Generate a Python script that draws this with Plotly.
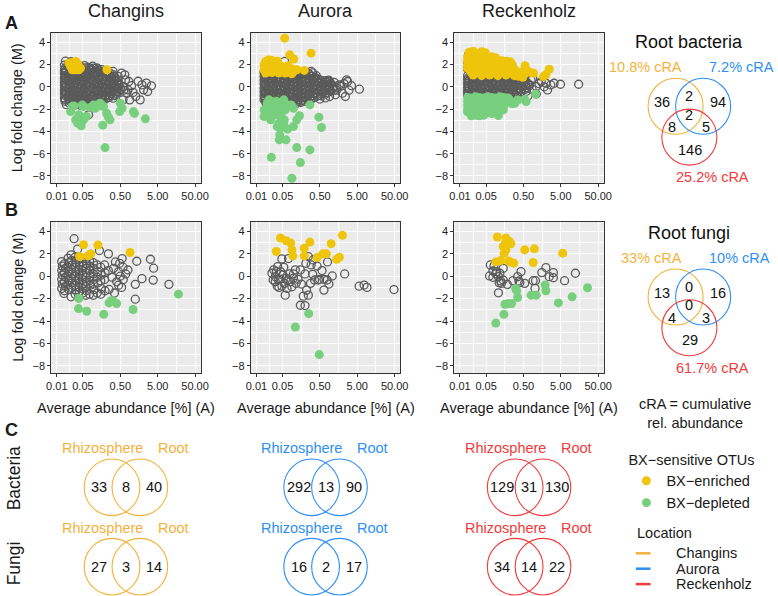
import plotly.graph_objects as go

W, H = 778, 596
FONT = "Arial, 'Liberation Sans', Helvetica, sans-serif"

# ---------------- styling constants ----------------
locations = ["Changins", "Aurora", "Reckenholz"]
loc_colors = ["#F4B23C", "#2D8FF3", "#F23B3B"]
col_enriched = "#EFC50C"
col_depleted = "#78CF7E"
col_other = "#5A5A5A"

x_tickvals = [0.01, 0.05, 0.5, 5, 50]
x_ticktext = ["0.01", "0.05", "0.50", "5.00", "50.00"]
x_minorvals = [0.0224, 0.158, 1.58, 15.8]
y_tickvals = [-8, -6, -4, -2, 0, 2, 4]
y_minorvals = [-7, -5, -3, -1, 1, 3]

# ---------------- data: (average abundance %, log fold change) ----------------
changins_bac_other = [
    (0.017, 2.3), (0.0235, 2.25), (0.016, 1.95), (0.020, 2.0), (0.026, 1.85), (0.033, 1.95), (0.043, 1.8), (0.055, 1.9), (0.071, 1.75), (0.091, 1.85), (0.117, 1.7),
    (0.0168, 1.68), (0.0213, 1.7), (0.0275, 1.65), (0.035, 1.7), (0.045, 1.65), (0.058, 1.7), (0.075, 1.62), (0.097, 1.68), (0.125, 1.6), (0.16, 1.55),
    (0.016, 1.5), (0.0176, 1.45), (0.0226, 1.55), (0.029, 1.4), (0.038, 1.5), (0.048, 1.55), (0.062, 1.45), (0.080, 1.5), (0.103, 1.4), (0.133, 1.45), (0.172, 1.35), (0.22, 1.25),
    (0.0168, 1.33), (0.0213, 1.3), (0.0275, 1.35), (0.035, 1.3), (0.045, 1.35), (0.058, 1.3), (0.075, 1.35), (0.097, 1.3), (0.125, 1.33), (0.16, 1.28), (0.205, 1.3), (0.265, 1.22),
    (0.016, 1.2), (0.020, 1.15), (0.026, 1.1), (0.033, 1.2), (0.043, 1.1), (0.055, 1.15), (0.071, 1.2), (0.091, 1.1), (0.117, 1.15), (0.151, 1.1), (0.195, 1.2), (0.25, 1.05), (0.32, 1.1),
    (0.0168, 0.98), (0.0213, 0.95), (0.0275, 1.0), (0.035, 0.95), (0.045, 1.0), (0.058, 0.95), (0.075, 1.0), (0.097, 0.95), (0.125, 1.0), (0.16, 0.95), (0.205, 1.0), (0.265, 0.95), (0.345, 0.92),
    (0.016, 0.8), (0.0176, 0.75), (0.0226, 0.85), (0.029, 0.8), (0.038, 0.75), (0.048, 0.85), (0.062, 0.8), (0.080, 0.75), (0.103, 0.85), (0.133, 0.8), (0.172, 0.75), (0.22, 0.85), (0.285, 0.8), (0.37, 0.7),
    (0.0168, 0.63), (0.0213, 0.6), (0.0275, 0.65), (0.035, 0.6), (0.045, 0.65), (0.058, 0.6), (0.075, 0.65), (0.097, 0.6), (0.125, 0.65), (0.16, 0.6), (0.205, 0.65), (0.265, 0.6), (0.345, 0.63), (0.44, 0.6),
    (0.016, 0.4), (0.020, 0.5), (0.026, 0.45), (0.033, 0.4), (0.043, 0.5), (0.055, 0.45), (0.071, 0.4), (0.091, 0.5), (0.117, 0.45), (0.151, 0.4), (0.195, 0.5), (0.25, 0.45), (0.32, 0.4), (0.42, 0.45),
    (0.0168, 0.28), (0.0213, 0.25), (0.0275, 0.3), (0.035, 0.25), (0.045, 0.3), (0.058, 0.25), (0.075, 0.3), (0.097, 0.25), (0.125, 0.3), (0.16, 0.25), (0.205, 0.3), (0.265, 0.25), (0.345, 0.3), (0.44, 0.25),
    (0.016, 0.1), (0.0176, 0.05), (0.0226, 0.15), (0.029, 0.1), (0.038, 0.05), (0.048, 0.15), (0.062, 0.1), (0.080, 0.05), (0.103, 0.15), (0.133, 0.1), (0.172, 0.05), (0.22, 0.15), (0.285, 0.1), (0.37, 0.05), (0.47, 0.1),
    (0.0168, -0.08), (0.0213, -0.1), (0.0275, -0.05), (0.035, -0.1), (0.045, -0.05), (0.058, -0.1), (0.075, -0.05), (0.097, -0.1), (0.125, -0.05), (0.16, -0.1), (0.205, -0.05), (0.265, -0.1), (0.345, -0.05), (0.44, -0.1),
    (0.016, -0.3), (0.020, -0.2), (0.026, -0.25), (0.033, -0.3), (0.043, -0.2), (0.055, -0.25), (0.071, -0.3), (0.091, -0.2), (0.117, -0.25), (0.151, -0.3), (0.195, -0.2), (0.25, -0.25), (0.32, -0.3), (0.42, -0.2), (0.52, -0.25),
    (0.0168, -0.43), (0.0213, -0.45), (0.0275, -0.4), (0.035, -0.45), (0.045, -0.4), (0.058, -0.45), (0.075, -0.4), (0.097, -0.45), (0.125, -0.4), (0.16, -0.45), (0.205, -0.4), (0.265, -0.45), (0.345, -0.4), (0.44, -0.45),
    (0.016, -0.6), (0.0176, -0.65), (0.0226, -0.55), (0.029, -0.6), (0.038, -0.65), (0.048, -0.55), (0.062, -0.6), (0.080, -0.65), (0.103, -0.55), (0.133, -0.6), (0.172, -0.65), (0.22, -0.55), (0.285, -0.6), (0.37, -0.65),
    (0.0168, -0.78), (0.0213, -0.8), (0.0275, -0.75), (0.035, -0.8), (0.045, -0.75), (0.058, -0.8), (0.075, -0.75), (0.097, -0.8), (0.125, -0.75), (0.16, -0.8), (0.205, -0.75), (0.265, -0.8), (0.345, -0.78),
    (0.016, -1.0), (0.020, -0.9), (0.026, -0.95), (0.033, -1.0), (0.043, -0.9), (0.055, -0.95), (0.071, -1.0), (0.091, -0.9), (0.117, -0.95), (0.151, -1.0), (0.195, -0.9), (0.25, -0.95),
    (0.0168, -1.13), (0.0213, -1.15), (0.0275, -1.1), (0.035, -1.15), (0.045, -1.1), (0.058, -1.15), (0.075, -1.1), (0.097, -1.15), (0.125, -1.1), (0.16, -1.15), (0.205, -1.1),
    (0.0165, -1.3), (0.0226, -1.25), (0.029, -1.3), (0.038, -1.35), (0.048, -1.25), (0.062, -1.3), (0.080, -1.35), (0.103, -1.25), (0.133, -1.3), (0.172, -1.2),
    (0.0213, -1.45), (0.0275, -1.42), (0.035, -1.48), (0.045, -1.42), (0.058, -1.45), (0.075, -1.42), (0.097, -1.45), (0.125, -1.4),
    (0.018, -1.6), (0.026, -1.55), (0.033, -1.6), (0.043, -1.65), (0.055, -1.55), (0.091, -1.6),
    (1.9, 0.18), (2.5, 0.33), (3.4, 0.09), (2.1, -0.27), (2.7, -0.42), (1.7, -1.17), (1.3, -0.87), (0.89, -1.17), (0.8, -0.27), (0.85, 0.48),
    (0.66, 1.08), (0.54, 1.23), (0.44, 0.93), (0.32, 1.38), (0.59, 0.03), (0.69, 0.63), (0.44, 0.18), (0.40, -0.57), (0.32, -1.02), (0.59, -1.17),
    (0.071, -2.51), (1.0, 0.1), (1.1, -0.5), (0.75, -0.6), (1.5, 0.5), (0.62, -0.3),
]
changins_bac_enriched = [
    (0.021, 2.13), (0.026, 2.19), (0.032, 2.28), (0.036, 2.07), (0.0234, 1.83), (0.029, 1.68), (0.035, 1.83), (0.043, 1.68),
    (0.026, 1.53), (0.032, 1.53), (0.039, 1.53), (0.22, 1.53),
]
changins_bac_depleted = [
    (0.0234, -2.22), (0.026, -1.77), (0.029, -1.71), (0.048, -1.62), (0.052, -1.77), (0.039, -2.51), (0.032, -2.96), (0.036, -3.26),
    (0.045, -3.5), (0.052, -2.96), (0.062, -2.66), (0.096, -1.62), (0.106, -1.92), (0.13, -1.71), (0.144, -1.47), (0.177, -1.77),
    (0.215, -2.37), (0.24, -2.72), (0.265, -2.96), (0.17, -3.44), (0.50, -1.47), (0.56, -1.92), (0.48, -2.22), (1.12, -2.22),
    (1.2, -2.37), (2.34, -2.87), (0.195, -5.45), (0.081, -1.83),
]

aurora_bac_other = [
    (0.016, 1.3), (0.020, 1.35), (0.026, 1.3), (0.033, 1.25), (0.043, 1.35), (0.055, 1.3), (0.071, 1.25), (0.091, 1.35), (0.117, 1.3), (0.151, 1.2), (0.195, 1.15), (0.25, 1.2),
    (0.0168, 1.12), (0.0213, 1.1), (0.0275, 1.15), (0.035, 1.1), (0.045, 1.15), (0.058, 1.1), (0.075, 1.15), (0.097, 1.1), (0.125, 1.15), (0.16, 1.1), (0.205, 1.12), (0.265, 1.08),
    (0.016, 0.95), (0.0176, 0.9), (0.0226, 1.0), (0.029, 0.95), (0.038, 0.9), (0.048, 1.0), (0.062, 0.95), (0.080, 0.9), (0.103, 1.0), (0.133, 0.95), (0.172, 0.9), (0.22, 1.0), (0.285, 0.95), (0.37, 0.85),
    (0.0168, 0.78), (0.0213, 0.75), (0.0275, 0.8), (0.035, 0.75), (0.045, 0.8), (0.058, 0.75), (0.075, 0.8), (0.097, 0.75), (0.125, 0.8), (0.16, 0.75), (0.205, 0.8), (0.265, 0.75), (0.345, 0.78), (0.44, 0.72),
    (0.016, 0.6), (0.020, 0.55), (0.026, 0.65), (0.033, 0.6), (0.043, 0.55), (0.055, 0.65), (0.071, 0.6), (0.091, 0.55), (0.117, 0.65), (0.151, 0.6), (0.195, 0.55), (0.25, 0.65), (0.32, 0.6), (0.42, 0.55), (0.52, 0.6), (0.66, 0.55), (0.85, 0.6),
    (0.0168, 0.42), (0.0213, 0.4), (0.0275, 0.45), (0.035, 0.4), (0.045, 0.45), (0.058, 0.4), (0.075, 0.45), (0.097, 0.4), (0.125, 0.45), (0.16, 0.4), (0.205, 0.45), (0.265, 0.4), (0.345, 0.45), (0.44, 0.4), (0.56, 0.42), (0.72, 0.4),
    (0.016, 0.25), (0.0176, 0.2), (0.0226, 0.3), (0.029, 0.25), (0.038, 0.2), (0.048, 0.3), (0.062, 0.25), (0.080, 0.2), (0.103, 0.3), (0.133, 0.25), (0.172, 0.2), (0.22, 0.3), (0.285, 0.25), (0.37, 0.2), (0.47, 0.3), (0.6, 0.25), (0.77, 0.2), (0.98, 0.3),
    (0.0168, 0.08), (0.0213, 0.05), (0.0275, 0.1), (0.035, 0.05), (0.045, 0.1), (0.058, 0.05), (0.075, 0.1), (0.097, 0.05), (0.125, 0.1), (0.16, 0.05), (0.205, 0.1), (0.265, 0.05), (0.345, 0.1), (0.44, 0.05), (0.56, 0.1), (0.72, 0.05), (0.92, 0.08), (1.2, 0.05),
    (0.016, -0.1), (0.020, -0.15), (0.026, -0.05), (0.033, -0.1), (0.043, -0.15), (0.055, -0.05), (0.071, -0.1), (0.091, -0.15), (0.117, -0.05), (0.151, -0.1), (0.195, -0.15), (0.25, -0.05), (0.32, -0.1), (0.42, -0.15), (0.52, -0.05), (0.66, -0.1), (0.85, -0.05), (1.08, -0.15), (1.38, -0.1),
    (0.0168, -0.28), (0.0213, -0.3), (0.0275, -0.25), (0.035, -0.3), (0.045, -0.25), (0.058, -0.3), (0.075, -0.25), (0.097, -0.3), (0.125, -0.25), (0.16, -0.3), (0.205, -0.25), (0.265, -0.3), (0.345, -0.25), (0.44, -0.3), (0.56, -0.25), (0.72, -0.3), (0.92, -0.28), (1.2, -0.3),
    (0.016, -0.45), (0.0176, -0.5), (0.0226, -0.4), (0.029, -0.45), (0.038, -0.5), (0.048, -0.4), (0.062, -0.45), (0.080, -0.5), (0.103, -0.4), (0.133, -0.45), (0.172, -0.5), (0.22, -0.4), (0.285, -0.45), (0.37, -0.5), (0.47, -0.4), (0.6, -0.45), (0.77, -0.5), (0.98, -0.4),
    (0.0168, -0.62), (0.0213, -0.65), (0.0275, -0.6), (0.035, -0.65), (0.045, -0.6), (0.058, -0.65), (0.075, -0.6), (0.097, -0.65), (0.125, -0.6), (0.16, -0.65), (0.205, -0.6), (0.265, -0.65), (0.345, -0.6), (0.44, -0.65), (0.56, -0.62), (0.72, -0.65),
    (0.016, -0.8), (0.020, -0.85), (0.026, -0.75), (0.033, -0.8), (0.043, -0.85), (0.055, -0.75), (0.071, -0.8), (0.091, -0.85), (0.117, -0.75), (0.151, -0.8), (0.195, -0.85), (0.25, -0.75), (0.32, -0.8), (0.42, -0.85), (0.52, -0.8),
    (0.0168, -0.98), (0.0213, -1.0), (0.0275, -0.95), (0.035, -1.0), (0.045, -0.95), (0.058, -1.0), (0.075, -0.95), (0.097, -1.0), (0.125, -0.95), (0.16, -1.0), (0.205, -0.95), (0.265, -1.0), (0.345, -0.98),
    (0.016, -1.15), (0.0176, -1.2), (0.0226, -1.1), (0.029, -1.15), (0.038, -1.2), (0.048, -1.1), (0.062, -1.15), (0.080, -1.2), (0.103, -1.1), (0.133, -1.15), (0.172, -1.2), (0.22, -1.1), (0.285, -1.15),
    (0.0213, -1.3), (0.0275, -1.32), (0.035, -1.28), (0.045, -1.3), (0.058, -1.32), (0.075, -1.28), (0.097, -1.3), (0.125, -1.32), (0.16, -1.28), (0.205, -1.3),
    (0.018, -1.45), (0.026, -1.5), (0.033, -1.4), (0.043, -1.45), (0.055, -1.5), (0.071, -1.4), (0.091, -1.45), (0.117, -1.5), (0.151, -1.4),
    (0.91, 0.48), (1.66, 0.18), (2.0, -0.57), (2.6, 0.63), (2.4, -0.87), (5.7, -0.21), (0.91, -0.87), (1.2, 0.4), (1.4, -0.3), (1.8, 0.05),
    (3.0, -0.3), (3.5, 0.1), (2.2, 0.3), (1.3, -0.7), (0.057, 2.28), (0.29, 1.38), (0.32, 1.26), (0.81, 0.48), (2.75, 0.48), (0.7, -1.0),
    (0.5, -1.1), (0.4, 1.0),
]
aurora_bac_enriched = [
    (0.057, 4.37), (0.078, 2.87), (0.10, 2.49), (0.29, 3.02), (0.19, 1.47), (0.092, 1.59),
    (0.016, 1.98), (0.0177, 2.28), (0.0215, 2.43), (0.026, 2.37), (0.032, 2.13), (0.040, 1.98), (0.048, 1.83), (0.0195, 1.83),
    (0.024, 1.68), (0.029, 1.68), (0.036, 1.53), (0.044, 1.53), (0.054, 1.47), (0.066, 1.53), (0.080, 1.47), (0.098, 1.38),
    (0.016, 1.53), (0.0177, 1.23), (0.026, 1.29), (0.040, 1.23), (0.059, 1.23), (0.088, 1.17), (0.12, 1.53), (0.021, 2.1),
    (0.03, 1.95), (0.037, 2.3), (0.06, 1.75), (0.07, 1.9),
]
aurora_bac_depleted = [
    (0.016, -2.07), (0.016, -2.66), (0.0195, -1.47), (0.0215, -2.37), (0.026, -1.32), (0.026, -2.07), (0.032, -1.77), (0.032, -2.51),
    (0.040, -1.47), (0.040, -2.22), (0.048, -1.77), (0.054, -1.17), (0.059, -2.07), (0.024, -2.96), (0.036, -3.56), (0.040, -3.26),
    (0.044, -3.71), (0.054, -3.41), (0.056, -2.96), (0.068, -3.8), (0.042, -4.31), (0.041, -4.76), (0.062, -4.76), (0.098, -3.56),
    (0.12, -2.96), (0.142, -2.6), (0.085, -1.62), (0.098, -1.92), (0.27, -1.62), (0.47, -2.72), (0.55, -3.65), (0.12, -5.45),
    (0.27, -5.66), (0.15, -6.8), (0.025, -6.32), (0.089, -8.2), (0.0215, -1.17), (0.02, -1.9), (0.03, -2.2), (0.045, -2.6),
    (0.065, -1.6), (0.035, -1.3),
]

reckenholz_bac_other = [
    (0.016, 2.1), (0.016, 1.6), (0.017, 2.9),
    (0.016, 1.0), (0.020, 1.05), (0.026, 0.95), (0.033, 1.0), (0.043, 1.05), (0.055, 0.95), (0.071, 1.0), (0.091, 1.05), (0.117, 0.95), (0.151, 1.0), (0.195, 1.05), (0.25, 0.95), (0.32, 1.0), (0.42, 1.05),
    (0.0168, 0.82), (0.0213, 0.8), (0.0275, 0.85), (0.035, 0.8), (0.045, 0.85), (0.058, 0.8), (0.075, 0.85), (0.097, 0.8), (0.125, 0.85), (0.16, 0.8), (0.205, 0.85), (0.265, 0.8), (0.345, 0.85), (0.44, 0.8),
    (0.016, 0.65), (0.0176, 0.6), (0.0226, 0.7), (0.029, 0.65), (0.038, 0.6), (0.048, 0.7), (0.062, 0.65), (0.080, 0.6), (0.103, 0.7), (0.133, 0.65), (0.172, 0.6), (0.22, 0.7), (0.285, 0.65), (0.37, 0.6), (0.47, 0.7),
    (0.0168, 0.48), (0.0213, 0.45), (0.0275, 0.5), (0.035, 0.45), (0.045, 0.5), (0.058, 0.45), (0.075, 0.5), (0.097, 0.45), (0.125, 0.5), (0.16, 0.45), (0.205, 0.5), (0.265, 0.45), (0.345, 0.5), (0.44, 0.45), (0.56, 0.48),
    (0.016, 0.3), (0.020, 0.25), (0.026, 0.35), (0.033, 0.3), (0.043, 0.25), (0.055, 0.35), (0.071, 0.3), (0.091, 0.25), (0.117, 0.35), (0.151, 0.3), (0.195, 0.25), (0.25, 0.35), (0.32, 0.3), (0.42, 0.25), (0.52, 0.35), (0.66, 0.3),
    (0.0168, 0.12), (0.0213, 0.1), (0.0275, 0.15), (0.035, 0.1), (0.045, 0.15), (0.058, 0.1), (0.075, 0.15), (0.097, 0.1), (0.125, 0.15), (0.16, 0.1), (0.205, 0.15), (0.265, 0.1), (0.345, 0.15), (0.44, 0.1), (0.56, 0.12), (0.72, 0.1),
    (0.016, -0.05), (0.0176, -0.1), (0.0226, 0.0), (0.029, -0.05), (0.038, -0.1), (0.048, 0.0), (0.062, -0.05), (0.080, -0.1), (0.103, 0.0), (0.133, -0.05), (0.172, -0.1), (0.22, 0.0), (0.285, -0.05), (0.37, -0.1), (0.47, 0.0), (0.6, -0.05),
    (0.0168, -0.22), (0.0213, -0.25), (0.0275, -0.2), (0.035, -0.25), (0.045, -0.2), (0.058, -0.25), (0.075, -0.2), (0.097, -0.25), (0.125, -0.2), (0.16, -0.25), (0.205, -0.2), (0.265, -0.25), (0.345, -0.2), (0.44, -0.25), (0.56, -0.22),
    (0.016, -0.4), (0.020, -0.45), (0.026, -0.35), (0.033, -0.4), (0.043, -0.45), (0.055, -0.35), (0.071, -0.4), (0.091, -0.45), (0.117, -0.35), (0.151, -0.4), (0.195, -0.45), (0.25, -0.35), (0.32, -0.4), (0.42, -0.45),
    (0.0168, -0.58), (0.0213, -0.6), (0.0275, -0.55), (0.035, -0.6), (0.045, -0.55), (0.058, -0.6), (0.075, -0.55), (0.097, -0.6), (0.125, -0.55), (0.16, -0.6), (0.205, -0.55), (0.265, -0.6), (0.345, -0.58),
    (0.016, -0.75), (0.0226, -0.7), (0.029, -0.75), (0.038, -0.8), (0.048, -0.7), (0.062, -0.75), (0.080, -0.8), (0.103, -0.7), (0.133, -0.75), (0.172, -0.8), (0.22, -0.7), (0.285, -0.75),
    (0.89, 0.77), (1.1, 0.02), (1.5, 0.47), (2.0, 0.32), (2.7, 0.17), (3.3, 0.32), (4.9, 0.23), (2.2, -0.28), (1.1, -0.64), (0.66, -0.82),
    (0.35, -0.94), (0.195, -0.82), (0.54, 1.07), (0.8, 0.62), (15, 0.23), (0.7, 0.2), (0.85, -0.2), (1.3, 0.3), (1.8, 0.0), (0.6, -0.4),
]
reckenholz_bac_enriched = [
    (0.0176, 3.1), (0.0226, 3.2), (0.029, 3.0), (0.038, 3.15), (0.048, 3.05),
    (0.016, 2.7), (0.020, 2.75), (0.026, 2.65), (0.033, 2.7), (0.043, 2.8), (0.055, 2.65), (0.071, 2.7), (0.091, 2.6),
    (0.016, 2.35), (0.0176, 2.3), (0.0226, 2.4), (0.029, 2.35), (0.038, 2.3), (0.048, 2.4), (0.062, 2.35), (0.080, 2.3), (0.103, 2.4), (0.133, 2.35), (0.172, 2.3), (0.22, 2.25),
    (0.016, 2.0), (0.020, 1.95), (0.026, 2.05), (0.033, 2.0), (0.043, 1.95), (0.055, 2.05), (0.071, 2.0), (0.091, 1.95), (0.117, 2.05), (0.151, 2.0), (0.195, 1.95), (0.25, 2.0),
    (0.016, 1.65), (0.0176, 1.6), (0.0226, 1.7), (0.029, 1.65), (0.038, 1.6), (0.048, 1.7), (0.062, 1.65), (0.080, 1.6), (0.103, 1.7), (0.133, 1.65), (0.172, 1.6), (0.22, 1.7), (0.285, 1.6),
    (0.020, 1.3), (0.026, 1.35), (0.033, 1.25), (0.043, 1.3), (0.055, 1.35), (0.071, 1.25), (0.091, 1.3), (0.117, 1.35), (0.151, 1.25), (0.195, 1.3), (0.25, 1.35), (0.32, 1.25), (0.42, 1.3),
    (0.0226, 1.05), (0.038, 1.0), (0.062, 1.05), (0.103, 1.0), (0.172, 1.05), (0.285, 1.0), (0.37, 0.95),
    (0.93, 1.22), (2.45, 1.58), (1.7, 0.92), (2.0, 1.1), (0.48, 0.86), (0.21, 2.12), (0.6, 1.5), (0.75, 1.3), (0.55, 1.9),
]
reckenholz_bac_depleted = [
    (0.016, -0.95), (0.020, -1.0), (0.026, -0.9), (0.033, -0.95), (0.043, -1.0), (0.055, -0.9), (0.071, -0.95), (0.091, -1.0), (0.117, -0.9), (0.151, -0.95), (0.195, -1.0),
    (0.016, -1.3), (0.0176, -1.35), (0.0226, -1.25), (0.029, -1.3), (0.038, -1.35), (0.048, -1.25), (0.062, -1.3), (0.080, -1.35), (0.103, -1.25), (0.133, -1.3), (0.172, -1.35), (0.22, -1.25),
    (0.016, -1.65), (0.020, -1.7), (0.026, -1.6), (0.033, -1.65), (0.043, -1.7), (0.055, -1.6), (0.071, -1.65), (0.091, -1.7), (0.117, -1.6), (0.151, -1.65),
    (0.016, -2.0), (0.0176, -2.05), (0.0226, -1.95), (0.029, -2.0), (0.038, -2.05), (0.048, -1.95), (0.062, -2.0), (0.080, -2.05), (0.103, -1.95), (0.133, -2.0),
    (0.016, -2.25), (0.020, -2.35), (0.026, -2.3), (0.033, -2.4), (0.043, -2.35), (0.055, -2.3), (0.071, -2.4),
    (0.020, -2.6), (0.026, -2.55), (0.033, -2.6), (0.043, -2.55),
    (0.35, -1.18), (0.29, -1.48), (0.54, -1.12), (0.59, -1.33), (1.05, -0.64), (0.107, -2.58), (0.145, -2.07), (0.25, -1.5),
]

changins_fun_other = [
    (0.0135, 1.3), (0.014, 0.9), (0.0135, 0.5), (0.014, 0.1), (0.0135, -0.3), (0.014, -0.7), (0.0135, -1.1),
    (0.016, 1.1), (0.017, 0.7), (0.016, 0.3), (0.017, -0.1), (0.016, -0.5), (0.017, -0.9), (0.016, -1.3), (0.0156, -1.54),
    (0.020, 1.6), (0.021, 1.2), (0.020, 0.8), (0.021, 0.4), (0.020, 0.0), (0.021, -0.4), (0.020, -0.8), (0.021, -1.2),
    (0.024, 1.9), (0.025, 1.4), (0.026, 1.0), (0.025, 0.6), (0.026, 0.2), (0.025, -0.2), (0.026, -0.6), (0.025, -1.0), (0.024, -1.84),
    (0.031, 1.7), (0.032, 1.2), (0.031, 0.8), (0.032, 0.4), (0.031, 0.0), (0.032, -0.4), (0.031, -0.8), (0.032, -1.2), (0.031, -1.6),
    (0.036, 2.41), (0.029, 3.34), (0.039, 1.5), (0.040, 1.0), (0.039, 0.6), (0.040, 0.2), (0.039, -0.2), (0.040, -0.6), (0.039, -1.0), (0.040, -1.4),
    (0.048, 1.3), (0.050, 0.9), (0.048, 0.5), (0.050, 0.1), (0.048, -0.3), (0.050, -0.7), (0.048, -1.1), (0.050, -1.5),
    (0.060, 1.6), (0.062, 1.1), (0.060, 0.7), (0.062, 0.3), (0.060, -0.1), (0.062, -0.5), (0.060, -0.9), (0.062, -1.3), (0.060, -1.7),
    (0.075, 1.4), (0.078, 0.9), (0.075, 0.5), (0.078, 0.0), (0.075, -0.4), (0.078, -0.8), (0.075, -1.6),
    (0.095, 1.2), (0.098, 0.7), (0.095, 0.2), (0.098, -0.3), (0.095, -0.7), (0.098, -1.2), (0.095, -1.7),
    (0.12, 1.0), (0.125, 0.4), (0.12, -0.1), (0.125, -0.6), (0.12, -1.5), (0.138, 2.29),
    (0.15, 0.8), (0.155, 0.1), (0.15, -0.4), (0.155, -1.1), (0.15, -1.6),
    (0.19, 1.0), (0.195, 0.3), (0.19, -0.3), (0.195, -1.3),
    (0.24, 1.99), (0.37, 1.27), (0.56, 1.57), (0.59, 0.8), (0.8, 0.55), (1.38, 1.33), (3.2, 1.51), (3.9, 0.71), (3.8, -0.35), (1.9, -0.22),
    (1.26, -0.73), (10, -0.73), (1.26, -2.05), (0.48, 1.15), (0.54, -1.0), (0.25, -1.18), (0.45, 0.4), (0.5, 0.0), (0.4, -0.5), (0.6, -0.3),
    (0.7, 0.2), (0.33, 0.7), (0.3, -0.1), (0.45, -0.8), (0.35, -1.5), (0.24, 0.5),
]
changins_fun_enriched = [
    (0.052, 2.80), (0.041, 1.75), (0.068, 1.81), (0.081, 1.99), (0.075, 1.9), (0.126, 2.77), (0.91, 2.11),
]
changins_fun_depleted = [
    (0.039, -1.99), (0.038, -2.89), (0.063, -3.13), (0.18, -3.4), (0.25, -2.38), (0.32, -2.2), (0.40, -2.44), (0.28, -2.2),
    (1.1, -2.97), (18, -1.6),
]

aurora_fun_other = [
    (0.029, 0.56), (0.026, 0.26), (0.028, -0.34), (0.032, -0.49), (0.036, -0.88), (0.040, -1.0), (0.032, -0.04), (0.037, 0.86),
    (0.044, 0.41), (0.044, -0.28), (0.048, 1.54), (0.051, 0.11), (0.054, 0.79), (0.056, -0.64), (0.059, -1.69), (0.063, -0.19),
    (0.066, -1.09), (0.072, 1.57), (0.077, 0.2), (0.080, -0.49), (0.089, -0.94), (0.098, -0.19), (0.11, 0.56), (0.115, -0.64),
    (0.13, -0.28), (0.15, 0.56), (0.16, -0.7), (0.18, -1.78), (0.20, 0.2), (0.21, 1.15), (0.22, -1.24), (0.245, 1.75),
    (0.245, -1.69), (0.15, -2.59), (0.20, -2.62), (0.28, -0.64), (0.29, 1.0), (0.32, 0.17), (0.33, 1.45), (0.36, -0.34),
    (0.42, 0.91), (0.45, -0.34), (0.49, -0.28), (0.57, 0.5), (0.64, -0.28), (0.64, -1.24), (0.78, -0.34), (0.8, 1.27),
    (0.87, -0.7), (1.07, 0.02), (2.3, 0.2), (5.6, -0.89), (7.6, -0.79), (9.1, -1.0), (48, -1.19),
    (0.034, 0.4), (0.039, -0.34), (0.048, -0.88), (0.07, -0.34), (0.098, 0.2),
]
aurora_fun_enriched = [
    (0.034, 2.2), (0.044, 3.4), (0.063, 3.16), (0.083, 2.95), (0.089, 2.35), (0.094, 1.81), (0.19, 2.5), (0.27, 3.04),
    (0.19, 1.81), (0.42, 1.66), (0.60, 1.99), (0.74, 1.99), (1.0, 2.89), (1.4, 1.51), (1.66, 1.69), (2.0, 3.64),
]
aurora_fun_depleted = [(0.25, -3.34), (0.11, -4.53), (0.48, -6.99)]

reckenholz_fun_other = [
    (0.065, 1.0), (0.081, 0.91), (0.062, 0.02), (0.076, 0.46), (0.095, 0.41), (0.107, -0.04), (0.123, -0.43), (0.144, -0.34),
    (0.112, -0.58), (0.144, 0.7), (0.107, -1.48), (0.185, -0.73), (0.128, -0.64), (0.26, -0.4), (0.38, -0.43), (0.43, 0.41),
    (0.54, -0.64), (0.91, -0.4), (1.02, -1.09), (1.05, -0.4), (1.55, 0.32), (2.0, 0.77), (2.45, -0.04), (3.16, 0.32),
    (3.16, -0.13), (6.3, -0.4), (12.3, 0.26), (0.35, -0.04), (0.40, -0.58), (0.076, -0.1), (0.092, 0.2), (0.117, 0.26),
]
reckenholz_fun_enriched = [
    (0.10, 3.49), (0.17, 3.4), (0.21, 3.1), (0.23, 2.89), (0.144, 2.65), (0.17, 2.35), (0.152, 2.05), (0.54, 2.35),
    (0.98, 2.44), (5.6, 2.05), (0.091, 1.27), (0.123, 1.39), (0.22, 1.27), (0.275, 1.16), (0.91, 1.22), (0.2, 1.35), (0.16, 2.9),
]
reckenholz_fun_depleted = [
    (0.091, -4.18), (0.15, -3.4), (0.16, -2.5), (0.195, -2.44), (0.24, -2.44), (0.31, -1.09), (0.35, -1.9), (0.8, -1.69),
    (1.1, -1.69), (1.9, -0.79), (2.0, -1.3), (4.3, -2.38), (10, -1.84), (26, -1.03), (0.33, -1.3),
]

# Venn diagram counts
root_bac_counts = [36, 2, 94, 2, 8, 5, 146]      # A, AB, B, ABC, AC, BC, C
root_fun_counts = [13, 0, 16, 0, 4, 3, 29]
root_bac_cra = ["10.8% cRA", "7.2% cRA", "25.2% cRA"]
root_fun_cra = ["33% cRA", "10% cRA", "61.7% cRA"]
venn2_labels = ["Rhizosphere", "Root"]
bac_venn2_counts = [(33, 8, 40), (292, 13, 90), (129, 31, 130)]
fun_venn2_counts = [(27, 3, 14), (16, 2, 17), (34, 14, 22)]

# ---------------- layout geometry (pixels) ----------------
panel_x_px = [(47, 199), (250, 402), (457, 609)]
panel_y_px = [(33, 183), (222, 373)]
x_range_log = [-2.15, 1.85]
y_range = [-8.63, 4.83]

panels = [
    [(changins_bac_other, changins_bac_enriched, changins_bac_depleted),
     (aurora_bac_other, aurora_bac_enriched, aurora_bac_depleted),
     (reckenholz_bac_other, reckenholz_bac_enriched, reckenholz_bac_depleted)],
    [(changins_fun_other, changins_fun_enriched, changins_fun_depleted),
     (aurora_fun_other, aurora_fun_enriched, aurora_fun_depleted),
     (reckenholz_fun_other, reckenholz_fun_enriched, reckenholz_fun_depleted)],
]


def sfx(i):
    return "" if i == 1 else str(i)


fig = go.Figure()
lay = dict(width=W, height=H, margin=dict(l=0, r=0, t=0, b=0), paper_bgcolor="white",
           plot_bgcolor="rgba(0,0,0,0)", font=dict(family=FONT, color="#1a1a1a"),
           showlegend=True, shapes=[], annotations=[], hovermode=False)


def ann(xp, yp, text, size, color="#1a1a1a", **kw):
    d = dict(x=xp / W, y=1 - yp / H, xref="paper", yref="paper", text=text, showarrow=False,
             font=dict(size=size, color=color, family=FONT), xanchor="center", yanchor="middle")
    d.update(kw)
    lay["annotations"].append(d)


for r in range(2):
    for c in range(3):
        idx = r * 3 + c + 1
        s = sfx(idx)
        x0, x1 = panel_x_px[c]
        y0, y1 = panel_y_px[r]
        other, enr, dep = panels[r][c]
        fig.add_trace(go.Scatter(x=[p[0] for p in other], y=[p[1] for p in other], mode="markers",
                                 xaxis="x" + s, yaxis="y" + s, showlegend=False,
                                 marker=dict(symbol="circle-open", size=8, color=col_other, line=dict(width=1.3))))
        fig.add_trace(go.Scatter(x=[p[0] for p in enr], y=[p[1] for p in enr], mode="markers",
                                 xaxis="x" + s, yaxis="y" + s, name="BX\u2212enriched",
                                 showlegend=(idx == 1), legend="legend",
                                 marker=dict(symbol="circle", size=9, color=col_enriched, line=dict(width=0))))
        fig.add_trace(go.Scatter(x=[p[0] for p in dep], y=[p[1] for p in dep], mode="markers",
                                 xaxis="x" + s, yaxis="y" + s, name="BX\u2212depleted",
                                 showlegend=(idx == 1), legend="legend",
                                 marker=dict(symbol="circle", size=9, color=col_depleted, line=dict(width=0))))
        common = dict(ticks="outside", ticklen=3, tickwidth=1, tickcolor="#333",
                      tickfont=dict(size=11, color="#222", family=FONT), showline=True, mirror=True,
                      linecolor="#333", linewidth=1, showgrid=True, gridcolor="white", gridwidth=1.2,
                      zeroline=False, fixedrange=True)
        lay["xaxis" + s] = dict(type="log", domain=[x0 / W, x1 / W], range=x_range_log, anchor="y" + s,
                                tickmode="array", tickvals=x_tickvals, ticktext=x_ticktext,
                                minor=dict(tickvals=x_minorvals, showgrid=True, gridcolor="white", gridwidth=0.6),
                                **common)
        lay["yaxis" + s] = dict(domain=[1 - y1 / H, 1 - y0 / H], range=y_range, anchor="x" + s,
                                tickmode="array", tickvals=y_tickvals,
                                minor=dict(tickvals=y_minorvals, showgrid=True, gridcolor="white", gridwidth=0.6),
                                **common)
        lay["shapes"].append(dict(type="rect", xref=f"x{s} domain", yref=f"y{s} domain", x0=0, x1=1, y0=0, y1=1,
                                  fillcolor="#EBEBEB", line=dict(width=0), layer="below"))

# ---------------- text ----------------
for c, loc in enumerate(locations):
    cx = sum(panel_x_px[c]) / 2
    ann(cx, 11, loc, 18)
    ann(cx, 408, "Average abundance [%] (A)", 14.5)
ann(7, 23, "<b>A</b>", 18)
ann(7, 210, "<b>B</b>", 18)
ann(7, 430, "<b>C</b>", 18)
for r in range(2):
    ann(12.5, sum(panel_y_px[r]) / 2, "Log fold change (M)", 14.5, textangle=-90)
ann(9.5, 478, "Bacteria", 17.5, textangle=-90)
ann(9.5, 563, "Fungi", 17.5, textangle=-90)
ann(701.5, 413, "cRA = cumulative<br>rel. abundance", 14.5)

# ---------------- Venn diagrams on their own axes ----------------
venn3_centers = [(-0.5, 0.0), (0.5, 0.0), (0.0, -1.1)]
venn3_region_pos = [(-1.0, 0.15), (0.0, 0.37), (1.05, 0.15), (0.0, -0.3), (-0.63, -0.75), (0.62, -0.75), (0.03, -1.55)]
venn2_centers = [(-0.5, 0.0), (0.5, 0.0)]
venn2_region_pos = [(-0.97, 0.0), (0.0, 0.0), (1.02, 0.0)]
venn2_label_pos = [(-0.85, 1.38), (1.7, 1.38)]


def venn_axes(n, cx, cy, unit, left, right, up, down):
    down = min(down, (H - cy) / unit)
    lay[f"xaxis{n}"] = dict(domain=[(cx - left * unit) / W, (cx + right * unit) / W], range=[-left, right],
                            visible=False, anchor=f"y{n}", fixedrange=True)
    lay[f"yaxis{n}"] = dict(domain=[1 - (cy + down * unit) / H, 1 - (cy - up * unit) / H], range=[-down, up],
                            visible=False, anchor=f"x{n}", fixedrange=True)
    fig.add_trace(go.Scatter(x=[], y=[], xaxis=f"x{n}", yaxis=f"y{n}", showlegend=False))


def vtext(n, x, y, text, size, color="#111", **kw):
    d = dict(x=x, y=y, xref=f"x{n}", yref=f"y{n}", text=text, showarrow=False,
             font=dict(size=size, color=color, family=FONT), xanchor="center", yanchor="middle")
    d.update(kw)
    lay["annotations"].append(d)


def vcircle(n, cx, cy, col):
    lay["shapes"].append(dict(type="circle", xref=f"x{n}", yref=f"y{n}", x0=cx - 1, x1=cx + 1, y0=cy - 1, y1=cy + 1,
                              line=dict(color=col, width=1.1), fillcolor="rgba(0,0,0,0)"))


venn3_specs = [(7, 106.3, "Root bacteria", root_bac_counts, root_bac_cra),
               (8, 297.0, "Root fungi", root_fun_counts, root_fun_cra)]
for n, cy, title, counts, cra in venn3_specs:
    venn_axes(n, 696.0, cy, 28.0, 1.7, 1.7, 2.55, 2.8)
    for (vx, vy), col in zip(venn3_centers, loc_colors):
        vcircle(n, vx, vy, col)
    for (px, py), cnt in zip(venn3_region_pos, counts):
        vtext(n, px, py, str(cnt), 14.5)
    vtext(n, 0.0, 2.3, title, 18)
    vtext(n, -0.2, 1.4, cra[0], 14.5, loc_colors[0], xanchor="right")
    vtext(n, 0.65, 1.4, cra[1], 14.5, loc_colors[1], xanchor="left")
    vtext(n, 0.84, -2.53, cra[2], 14.5, loc_colors[2])

venn2_rows = [(487.3, bac_venn2_counts), (566.7, fun_venn2_counts)]
n = 9
for cy, counts_list in venn2_rows:
    for c in range(3):
        cx = sum(panel_x_px[c]) / 2
        venn_axes(n, cx, cy, 28.3, 1.6, 2.0, 1.6, 1.05)
        for vx, vy in venn2_centers:
            vcircle(n, vx, vy, loc_colors[c])
        for (px, py), cnt in zip(venn2_region_pos, counts_list[c]):
            vtext(n, px, py, str(cnt), 14.5)
        for (px, py), lab in zip(venn2_label_pos, venn2_labels):
            vtext(n, px, py, lab, 14.5, loc_colors[c])
        n += 1

# ---------------- legends ----------------
lay["legend"] = dict(x=632 / W, y=1 - 446 / H, xanchor="left", yanchor="top", bgcolor="rgba(0,0,0,0)",
                     title=dict(text="BX\u2212sensitive OTUs", font=dict(size=14.5, family=FONT)),
                     font=dict(size=14.5, family=FONT, color="#1a1a1a"), itemclick=False, itemdoubleclick=False)

# Location key (colour key for the Venn circles)
loc_key_x, loc_key_y0, loc_key_step = 641.5, 553.3, 15.4
ann(loc_key_x - 1, 533, "Location", 14.5, xanchor="left")
for i, (loc, col) in enumerate(zip(locations, loc_colors)):
    yk = loc_key_y0 + i * loc_key_step
    lay["shapes"].append(dict(type="line", xref="paper", yref="paper", x0=loc_key_x / W, x1=(loc_key_x + 15) / W,
                              y0=1 - yk / H, y1=1 - yk / H, line=dict(color=col, width=2.5)))
    ann(loc_key_x + 38.5, yk, loc, 14.5, xanchor="left")

fig.update_layout(**lay)
fig.write_html("out.html", config={"displayModeBar": False},
               post_script="document.body.style.margin='0px';document.body.style.padding='0px';")
